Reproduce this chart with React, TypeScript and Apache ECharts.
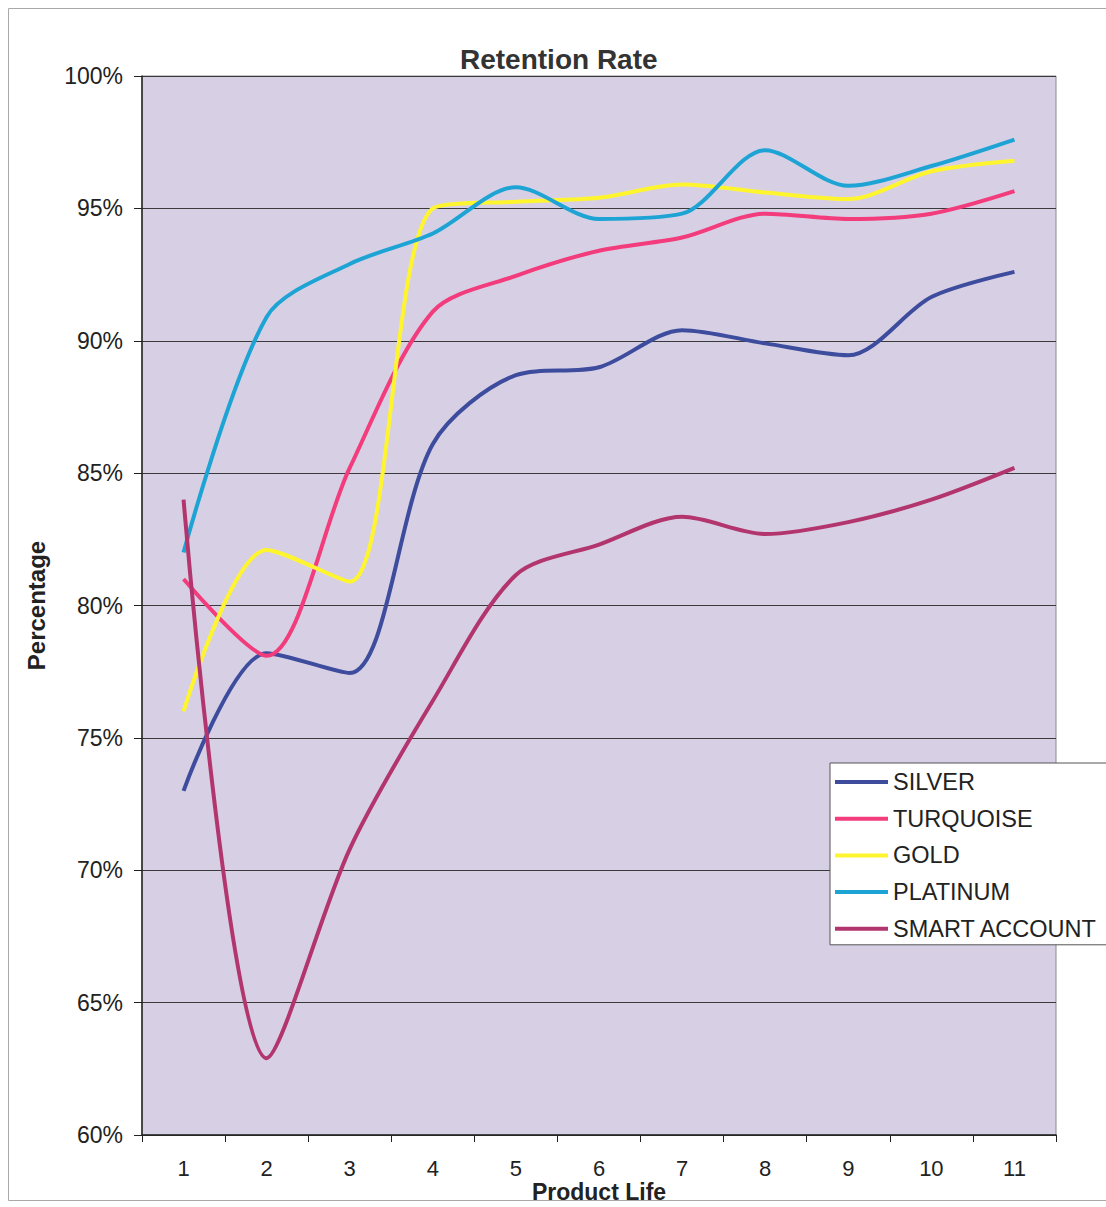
import React, { useEffect, useRef } from "react";
import * as echarts from "echarts";

// Product life periods (x axis categories)
const productLife = ["1", "2", "3", "4", "5", "6", "7", "8", "9", "10", "11"];

// Retention rate per account type, in percent
const silver = [73.0, 78.2, 77.45, 86.1, 88.7, 89.0, 90.4, 89.9, 89.45, 91.65, 92.6];
const turquoise = [81.0, 78.1, 85.2, 91.1, 92.45, 93.4, 93.9, 94.8, 94.6, 94.8, 95.65];
const gold = [76.0, 82.1, 80.9, 95.0, 95.25, 95.4, 95.9, 95.6, 95.35, 96.4, 96.8];
const platinum = [82.0, 90.9, 92.9, 94.05, 95.8, 94.6, 94.8, 97.2, 95.85, 96.6, 97.6];
const smartAccount = [84.0, 62.9, 70.8, 76.4, 81.15, 82.3, 83.35, 82.7, 83.15, 84.0, 85.2];

const seriesNames = ["SILVER", "TURQUOISE", "GOLD", "PLATINUM", "SMART ACCOUNT"];
const seriesValues = [silver, turquoise, gold, platinum, smartAccount];
const seriesColors = ["#3d4c9c", "#f23c7c", "#fff52e", "#1ea4d4", "#b3356e"];

const FONT = "'Liberation Sans', Arial, sans-serif";

export default function App() {
  const ref = useRef<HTMLDivElement>(null);

  useEffect(() => {
    if (!ref.current) return;
    const chart = echarts.init(ref.current, undefined, { renderer: "svg" });

    const series = seriesNames.map((name, i) => ({
      name,
      type: "line",
      data: seriesValues[i],
      smooth: 0.3,
      showSymbol: false,
      symbol: "none",
      lineStyle: { color: seriesColors[i], width: 4 },
      itemStyle: { color: seriesColors[i] },
    }));

    chart.setOption({
      animation: false,
      backgroundColor: "#ffffff",
      textStyle: { fontFamily: FONT },
      graphic: [
        {
          type: "rect",
          shape: { x: 8.5, y: 8.5, width: 1200, height: 1192 },
          style: { fill: "none", stroke: "#a8a8a8", lineWidth: 1 },
          silent: true,
          z: -10,
        },
        {
          // x axis title, placed under the category labels
          type: "text",
          x: 599,
          y: 1192,
          style: {
            text: "Product Life",
            fontFamily: FONT,
            fontSize: 23,
            fontWeight: "bold",
            fill: "#222222",
            align: "center",
            verticalAlign: "middle",
          },
          silent: true,
        },
      ],
      title: {
        text: "Retention Rate",
        left: 455,
        top: 40,
        textStyle: { fontFamily: FONT, fontSize: 28, fontWeight: "bold", color: "#333333" },
      },
      legend: {
        orient: "vertical",
        left: 830,
        top: 763,
        data: seriesNames,
        icon: "rect",
        itemWidth: 53,
        itemHeight: 4,
        itemGap: 12.7,
        padding: [7, 14, 4, 5],
        backgroundColor: "#ffffff",
        borderColor: "#555555",
        borderWidth: 1,
        textStyle: { fontFamily: FONT, fontSize: 23.5, color: "#222222", lineHeight: 24 },
      },
      grid: {
        left: 142,
        right: 50,
        top: 76,
        bottom: 72,
        outerBoundsMode: "none",
        containLabel: false,
        show: true,
        backgroundColor: "#d7d0e5",
        borderColor: "#8a8a8a",
        borderWidth: 1,
      },
      xAxis: {
        type: "category",
        data: productLife,
        boundaryGap: true,
        axisLine: { lineStyle: { color: "#222222", width: 1.5 } },
        axisTick: { show: true, length: 7, lineStyle: { color: "#222222" } },
        axisLabel: { margin: 22, fontFamily: FONT, fontSize: 22, color: "#222222" },
        splitLine: { show: false },
      },
      yAxis: {
        type: "value",
        min: 60,
        max: 100,
        interval: 5,
        name: "Percentage",
        nameLocation: "middle",
        nameGap: 94,
        nameRotate: 90,
        nameTextStyle: { fontFamily: FONT, fontSize: 24, fontWeight: "bold", color: "#222222" },
        axisLine: { show: true, lineStyle: { color: "#222222", width: 1.5 } },
        axisTick: { show: true, length: 8, lineStyle: { color: "#222222" } },
        axisLabel: {
          margin: 19,
          formatter: "{value}%",
          fontFamily: FONT,
          fontSize: 23,
          color: "#222222",
        },
        splitLine: { show: true, lineStyle: { color: "#3a3a3a", width: 1 } },
      },
      series,
    });

    return () => {
      chart.dispose();
    };
  }, []);

  return (
    <div
      ref={ref}
      style={{ position: "absolute", left: 0, top: 0, width: 1106, height: 1207 }}
    />
  );
}
